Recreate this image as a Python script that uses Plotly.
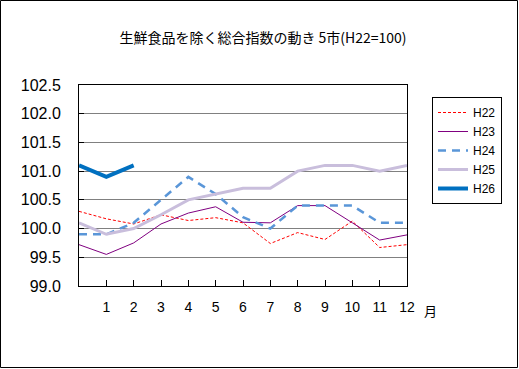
import plotly.graph_objects as go

# Data (first point = previous December, unlabeled)
months = ["", "1", "2", "3", "4", "5", "6", "7", "8", "9", "10", "11", "12"]
h22 = [100.3, 100.17, 100.08, 100.24, 100.14, 100.19, 100.1, 99.74, 99.93, 99.81, 100.13, 99.67, 99.72]
h23 = [99.72, 99.55, 99.75, 100.08, 100.27, 100.38, 100.11, 100.1, 100.4, 100.4, 100.1, 99.8, 99.89]
h24 = [99.9, 99.9, 100.1, 100.5, 100.9, 100.6, 100.2, 100.0, 100.4, 100.4, 100.4, 100.1, 100.1]
h25 = [100.1, 99.9, 100.0, 100.24, 100.5, 100.6, 100.7, 100.7, 101.0, 101.1, 101.1, 101.0, 101.1]
h26 = [101.1, 100.9, 101.1]
y_ticks = [99.0, 99.5, 100.0, 100.5, 101.0, 101.5, 102.0, 102.5]

xpos = list(range(len(months)))

fig = go.Figure()
fig.add_trace(go.Scatter(x=xpos, y=h22, name="H22", mode="lines",
                         line=dict(color="#FF0000", width=1, dash="3px,2px")))
fig.add_trace(go.Scatter(x=xpos, y=h23, name="H23", mode="lines",
                         line=dict(color="#800080", width=1)))
fig.add_trace(go.Scatter(x=xpos, y=h24, name="H24", mode="lines",
                         line=dict(color="#5A96D8", width=2.5, dash="8px,6px")))
fig.add_trace(go.Scatter(x=xpos, y=h25, name="H25", mode="lines",
                         line=dict(color="#C9BEDC", width=3)))
fig.add_trace(go.Scatter(x=xpos[:len(h26)], y=h26, name="H26", mode="lines",
                         line=dict(color="#0070C0", width=4)))

L, R, T, B = 79, 112, 85, 83
W, H = 519, 369
pw, ph = W - L - R, H - T - B

def px(x):
    return (x - L) / pw

def py(y):
    return (H - B - y) / ph

fig.update_layout(
    width=W, height=H,
    margin=dict(l=L, r=R, t=T, b=B),
    paper_bgcolor="white", plot_bgcolor="white",
    font=dict(family="Liberation Sans, Arial, sans-serif", color="black"),
    title=dict(text="生鮮食品を除く総合指数の動き 5市(H22=100)",
               x=263 / W, xanchor="center", y=1 - 38 / H, yanchor="middle",
               font=dict(family="Noto Sans CJK JP", size=14, color="black")),
    legend=dict(x=px(432), y=py(97), xanchor="left", yanchor="top",
                bgcolor="white", bordercolor="black", borderwidth=1,
                font=dict(size=12, color="black"), itemwidth=30),
    showlegend=True,
    shapes=[dict(type="rect", xref="paper", yref="paper",
                 x0=px(0.5), x1=px(517.5), y0=py(367.5), y1=py(0.5),
                 line=dict(color="black", width=1))],
    annotations=[dict(text="月", xref="paper", yref="paper", x=px(430), y=py(310),
                      xanchor="center", yanchor="middle", showarrow=False,
                      font=dict(family="Noto Sans CJK JP", size=13, color="black"))],
)

fig.update_xaxes(range=[0, 12], tickvals=xpos[1:], ticktext=months[1:],
                 ticks="inside", ticklen=6, tickcolor="black",
                 showline=True, linecolor="black", linewidth=1, mirror=True,
                 showgrid=False, zeroline=False, tickfont=dict(size=14),
                 ticklabelstandoff=8)
fig.update_yaxes(range=[99, 102.5], tickvals=y_ticks, tickformat=".1f",
                 ticks="inside", ticklen=5, tickcolor="black",
                 showline=True, linecolor="black", linewidth=1, mirror=True,
                 showgrid=True, gridcolor="#808080", gridwidth=1, zeroline=False,
                 tickfont=dict(size=16), ticklabelstandoff=14)

fig.write_html("out.html", config={"displayModeBar": False},
               post_script="document.body.style.margin='0';document.body.style.overflow='hidden';")
